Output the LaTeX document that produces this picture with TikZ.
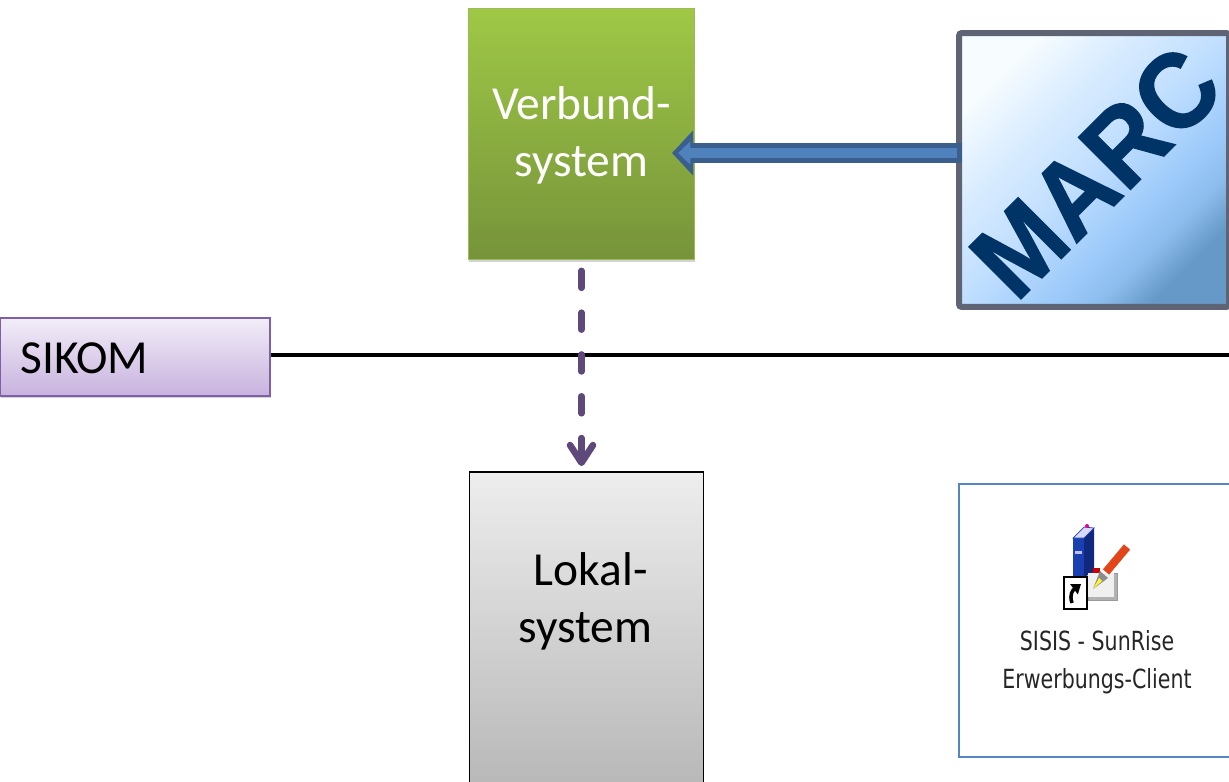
\documentclass[tikz,border=0pt]{standalone}
\usepackage{fontspec}
\setmainfont{Carlito}
\newfontfamily\marcfont[FakeBold=1.2,FakeStretch=0.93]{Liberation Sans Bold}
\newfontfamily\iconfont[FakeStretch=0.78]{DejaVu Sans}
\usetikzlibrary{arrows.meta,shadows}
\definecolor{greenTop}{HTML}{9FC846}
\definecolor{greenBot}{HTML}{76933A}
\definecolor{greenEdge}{HTML}{9BBB59}
\definecolor{sikomTop}{HTML}{F2EDF8}
\definecolor{sikomBot}{HTML}{C8B2DE}
\definecolor{sikomEdge}{HTML}{7F5FA9}
\definecolor{dashPurple}{HTML}{5F497A}
\definecolor{arrowDark}{HTML}{3A5F8F}
\definecolor{arrowFill}{HTML}{4F81BD}
\definecolor{marcEdge}{HTML}{5F6475}
\definecolor{marcText}{HTML}{003366}
\definecolor{clientEdge}{HTML}{5585C5}
\definecolor{bookFront}{HTML}{1A3FB0}
\definecolor{bookSide}{HTML}{10287E}
\definecolor{penRed}{HTML}{E2451A}
\pgfdeclareverticalshading{marcshade}{100bp}{rgb(0bp)=(0.40,0.60,0.78);rgb(25bp)=(0.40,0.60,0.78);rgb(32bp)=(0.55,0.74,0.93);rgb(38bp)=(0.61,0.79,0.98);rgb(50bp)=(0.75,0.87,1);rgb(64bp)=(0.86,0.93,1);rgb(75bp)=(0.97,0.99,1);rgb(100bp)=(0.97,0.99,1)}
\tikzset{
  textbox/.style={font=\fontsize{27}{32.3}\selectfont, align=center},
  verbundbox/.style={rectangle, draw=greenEdge, line width=1pt, top color=greenTop, bottom color=greenBot, text=white, minimum width=4.52cm, minimum height=5.02cm, inner sep=0pt, drop shadow={opacity=0.35, shadow xshift=0.5pt, shadow yshift=-1.5pt}},
  lokalbox/.style={rectangle, draw=black, line width=0.8pt, top color=black!7, bottom color=black!29, minimum width=4.68cm, minimum height=6.6cm, inner sep=0pt},
  sikombox/.style={rectangle, draw=sikomEdge, line width=0.7pt, top color=sikomTop, bottom color=sikomBot, minimum width=5.4cm, minimum height=1.56cm, inner sep=0pt, drop shadow={opacity=0.35, shadow xshift=0.5pt, shadow yshift=-1pt}},
  marcbox/.style={rectangle, rounded corners=1.5pt, draw=marcEdge, line width=3.4pt, shading=marcshade, shading angle=45, minimum width=5.4cm, minimum height=5.48cm, inner sep=0pt},
  clientbox/.style={rectangle, draw=clientEdge, line width=1pt, fill=white, minimum width=6cm, minimum height=5.46cm, inner sep=0pt},
  icontext/.style={font=\iconfont\fontsize{15}{21.6}\selectfont, text=black!85, align=center, inner sep=0pt},
  hline/.style={draw=black, line width=2pt},
  dashline/.style={draw=dashPurple, line width=3.8pt, line cap=round, dash pattern=on 9.6pt off 14.2pt, -{Straight Barb[length=10pt, width=13pt, round, line width=3.8pt]}},
}
\begin{document}
\begin{tikzpicture}[x=0.02cm, y=-0.02cm]
\path[use as bounding box, clip] (0,0) rectangle (1229,781);
\node[verbundbox] (verbund) at (581.5,134) {};
\node[textbox, text=white, inner sep=0pt] (verbundtext) at (581.5,135) {Verbund-\\system};
\node[lokalbox] (lokal) at (586.5,637) {};
\node[textbox, inner sep=0pt] (lokaltext) at (585.5,601) {~Lokal-\\system};
\node[sikombox] (sikom) at (135,357) {};
\node[font=\fontsize{27}{30}\selectfont, anchor=west, inner sep=0pt] (sikomtext) at (20,358) {SIKOM};
\node[marcbox] (marc) at (1094,170) {};
\node[font=\marcfont\fontsize{61}{64}\selectfont, text=marcText, rotate=45, anchor=base west, inner sep=0pt] (marctext) at (1016,304) {MARC};
\node[clientbox] (client) at (1109,620.5) {};
\node[icontext] (clienttext) at (1097,662) {SISIS - SunRise\\Erwerbungs-Client};
\coordinate (lineend) at (1229,355);
\coordinate (arrowstart) at (962,153);
\coordinate (arrowtip) at (672,153);
\draw[hline] (sikom.east |- lineend) -- (lineend);
\draw[dashline] ([yshift=-6]verbund.south) -- ([yshift=3]verbund.south |- lokal.north);
\draw[arrowDark, line width=11.4pt, -{Triangle[length=12pt, width=25pt]}] (arrowstart) -- (arrowtip);
\draw[arrowFill, line width=5.8pt, -{Triangle[length=7pt, width=13pt]}] ([xshift=-3]arrowstart) -- ([xshift=3.5]arrowtip);
% icon
\fill[bookFront] (1073,538) -- (1084,538) -- (1084,577) -- (1073,577) -- cycle;
\fill[bookSide] (1084,538) -- (1094,528) -- (1094,572) -- (1084,577) -- cycle;
\fill[blue!15!white, draw=bookFront, line width=0.4pt] (1073,538) -- (1084,527) -- (1094,528) -- (1084,538) -- cycle;
\fill[magenta] (1087,526) circle (2);
\fill[white!75!blue] (1075,551) rectangle (1082,554);
\fill[black!30, draw=black!40, line width=0.3pt] (1088,573) rectangle (1117,600);
\fill[black!6] (1088,573) rectangle (1114,597);
\fill[red!80!black] (1093,568) rectangle (1100,573);
\draw[penRed, line width=4.6pt] (1127,547) -- (1106,572);
\fill[black!45] (1100,571) -- (1108,578) -- (1093,589) -- cycle;
\fill[yellow!85!white] (1099,578) -- (1102,581) -- (1093,589) -- cycle;
\draw[black, line width=0.9pt, fill=white] (1064,577) rectangle (1087,609);
\draw[black, line width=2pt, -{Triangle[length=5pt, width=7pt]}] (1072,603) .. controls (1069,594) and (1073,590) .. (1081,584);
\end{tikzpicture}
\end{document}
